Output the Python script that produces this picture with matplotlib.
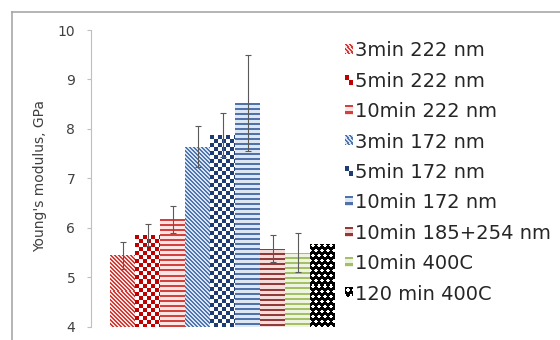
import numpy as np
import matplotlib
matplotlib.use("Agg")
import matplotlib.pyplot as plt
from matplotlib.lines import Line2D
from matplotlib.image import BboxImage
from matplotlib.transforms import Bbox, TransformedBbox
from matplotlib.legend_handler import HandlerBase
from matplotlib.colors import to_rgb

plt.rcParams["font.family"] = ["DejaVu Sans"]

# Samples and measured modulus (GPa) with standard deviations
labels = ["3min 222 nm", "5min 222 nm", "10min 222 nm",
          "3min 172 nm", "5min 172 nm", "10min 172 nm",
          "10min 185+254 nm", "10min 400C", "120 min 400C"]
modulus = [5.44, 5.85, 6.17, 7.64, 7.88, 8.52, 5.58, 5.50, 5.68]
std_dev = [0.27, 0.22, 0.27, 0.42, 0.45, 0.97, 0.27, 0.39, np.nan]
y_ticks = [4, 5, 6, 7, 8, 9, 10]

# Fill pattern for each sample: (pattern kind, foreground, background)
fills = [
    ("diag", "#d33a36", "#fbe1df"),
    ("check", "#c00000", "#ffffff"),
    ("hstripe", "#d2413d", "#fde5e3"),
    ("diag", "#4f75b0", "#d9e4f2"),
    ("check", "#1f3b73", "#ffffff"),
    ("hstripe", "#4f72ab", "#dde7f3"),
    ("hstripe", "#8e3b3a", "#f4dcdb"),
    ("hstripe", "#a4c066", "#eef4e0"),
    ("dots", "#ffffff", "#000000"),
]


def texture(kind, h, w, fg, bg):
    r, c = np.mgrid[0:h, 0:w]
    if kind == "diag":
        mask = ((c - r) % 4) < 2
    elif kind == "check":
        mask = ((r // 4 + c // 4) % 2) == 0
    elif kind == "hstripe":
        mask = (r % 5) < 2
    else:
        off = 3 * ((r // 5) % 2)
        rr = r % 5
        cc = (c + off) % 6
        mask = ((rr >= 1) & (rr <= 3) & ((cc == 2) | (cc == 3))) | \
               ((rr == 2) & ((cc == 1) | (cc == 4)))
    img = np.where(mask[..., None], np.array(to_rgb(fg)), np.array(to_rgb(bg)))
    return img


class TextureHandler(HandlerBase):
    def __init__(self, spec):
        super().__init__()
        self.spec = spec

    def create_artists(self, legend, orig_handle, xdescent, ydescent,
                       width, height, fontsize, trans):
        bb = TransformedBbox(Bbox.from_bounds(-xdescent, -ydescent, width, height), trans)
        im = BboxImage(bb, interpolation="nearest")
        kind, fg, bg = self.spec
        im.set_data(texture(kind, 8, 8, fg, bg))
        return [im]


fig = plt.figure(figsize=(5.6, 3.4), dpi=100)
W, H = 560.0, 340.0
ax = fig.add_axes([90.5 / W, (H - 326.7) / H, 264.5 / W, (326.7 - 30.0) / H])

x = np.arange(len(labels))
bars = ax.bar(x, modulus, width=1.0, color="white", edgecolor="none", zorder=1)
ax.set_xlim(-1.28, 9.3)
ax.set_ylim(4, 10)

# Patterned fill for each bar, one screen pixel per texture pixel
for bar, (kind, fg, bg) in zip(bars, fills):
    x0, x1 = bar.get_x(), bar.get_x() + bar.get_width()
    y0 = max(bar.get_y(), ax.get_ylim()[0])
    y1 = bar.get_y() + bar.get_height()
    p0 = ax.transData.transform((x0, y0))
    p1 = ax.transData.transform((x1, y1))
    w = max(int(round(p1[0] - p0[0])), 1)
    h = max(int(round(p1[1] - p0[1])), 1)
    im = ax.imshow(texture(kind, h, w, fg, bg), extent=(x0, x1, y0, y1),
                   origin="upper", aspect="auto", interpolation="nearest", zorder=2)
    im.set_clip_path(bar)

ax.set_xlim(-1.28, 9.3)
ax.set_ylim(4, 10)

err = np.array(std_dev)
has_err = ~np.isnan(err)
ax.errorbar(x[has_err], np.array(modulus)[has_err], yerr=err[has_err], fmt="none",
            ecolor="#5a5a5a", elinewidth=0.8, capsize=2.5, capthick=0.8, zorder=3)

for side in ("top", "right", "bottom"):
    ax.spines[side].set_visible(False)
ax.spines["left"].set_color("#bfbfbf")
ax.spines["left"].set_linewidth(0.8)
ax.set_xticks([])
ax.set_yticks(y_ticks)
ax.tick_params(axis="y", direction="out", length=3, width=0.8, color="#bfbfbf",
               pad=8, labelsize=10, labelcolor="#404040")
ax.set_ylabel("Young's modulus, GPa", fontsize=10, color="#404040")
ax.yaxis.set_label_coords(-0.165, 0.508)
ax.patch.set_alpha(0)

handler_map = {bar: TextureHandler(spec) for bar, spec in zip(bars, fills)}
fig.legend(list(bars), labels, handler_map=handler_map, loc="upper left",
           bbox_to_anchor=(345 / W, 1 - 41.5 / H), frameon=False, fontsize=14,
           handlelength=0.38, handleheight=0.38, handletextpad=0.15,
           labelspacing=0.585, borderpad=0, borderaxespad=0, labelcolor="#262626")

# Outer chart frame (left and top edges)
fx = 11.5 / W
fy = 1 - 12 / H
fig.add_artist(Line2D([fx, fx], [-0.1, fy], transform=fig.transFigure,
                      color="#a0a0a0", linewidth=1.1))
fig.add_artist(Line2D([fx, 1.1], [fy, fy], transform=fig.transFigure,
                      color="#a0a0a0", linewidth=1.1))

fig.savefig("out.png", dpi=100)
